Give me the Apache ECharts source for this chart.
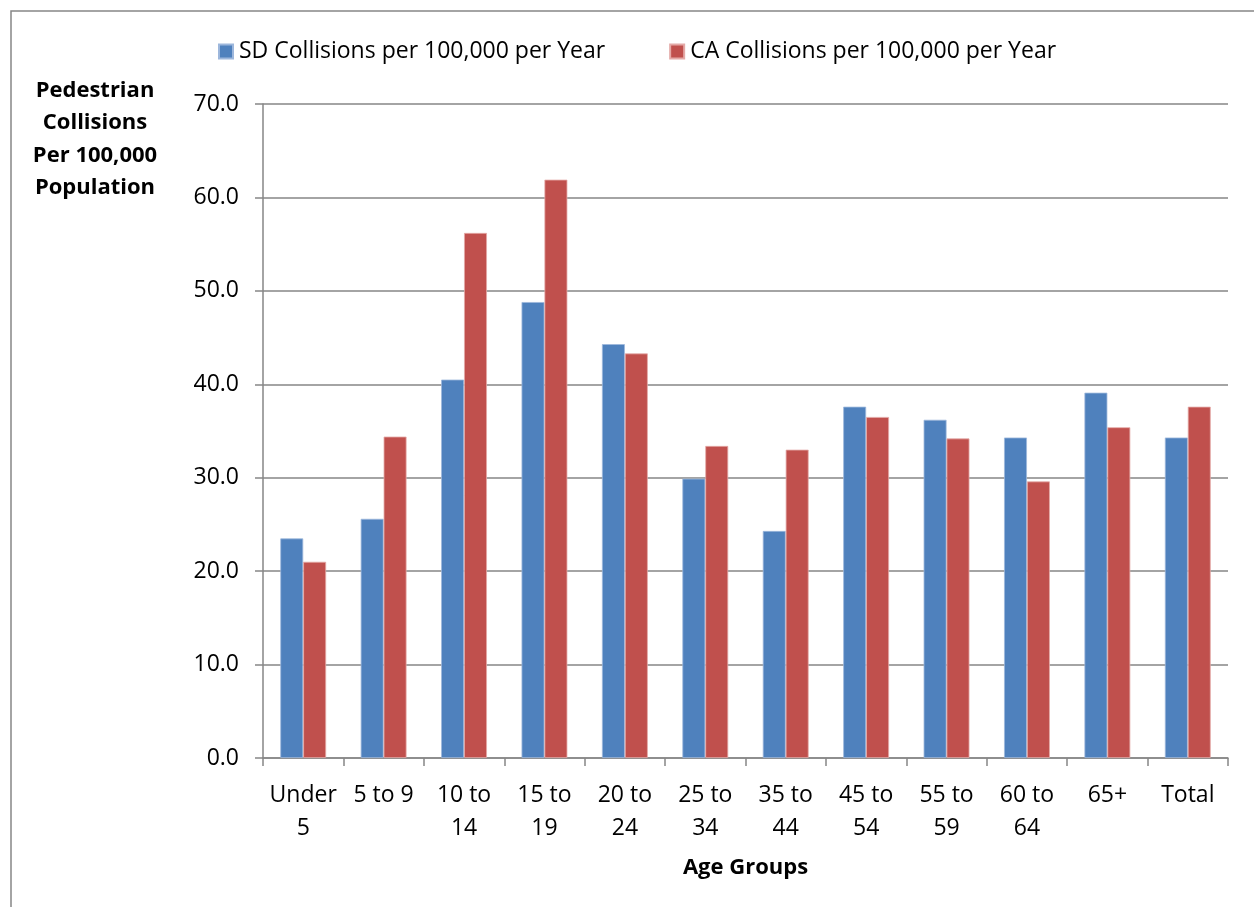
<!DOCTYPE html>
<html>
<head>
<meta charset="utf-8">
<script src="https://cdn.jsdelivr.net/npm/echarts@6/dist/echarts.min.js"></script>
<style>
  html, body { margin: 0; padding: 0; background: #fff; }
  #chart { width: 1254px; height: 907px; }
</style>
</head>
<body>
<div id="chart"></div>
<script>
// Age groups shown along the x axis
const ageGroups = ['Under\n5', '5 to 9', '10 to\n14', '15 to\n19', '20 to\n24', '25 to\n34',
  '35 to\n44', '45 to\n54', '55 to\n59', '60 to\n64', '65+', 'Total'];

// Pedestrian collisions per 100,000 population per year
const sdRates = [23.5, 25.6, 40.5, 48.8, 44.3, 29.9, 24.3, 37.6, 36.2, 34.3, 39.1, 34.3];
const caRates = [21.0, 34.4, 56.2, 61.9, 43.3, 33.4, 33.0, 36.5, 34.2, 29.6, 35.4, 37.6];

const seriesNames = ['SD Collisions per 100,000 per Year', 'CA Collisions per 100,000 per Year'];

const FONT = '"Open Sans", "Noto Sans", sans-serif';
const AXIS_GRAY = '#868686';

const chart = echarts.init(document.getElementById('chart'), null, { renderer: 'canvas' });

chart.setOption({
  backgroundColor: '#ffffff',
  animation: false,
  textStyle: { fontFamily: FONT },
  graphic: [
    // outer chart frame
    {
      type: 'rect',
      shape: { x: 11, y: 11, width: 1260, height: 920 },
      style: { fill: 'none', stroke: AXIS_GRAY, lineWidth: 1.5 },
      silent: true
    },
    // y axis title, stacked over four lines
    {
      type: 'text',
      x: 95, y: 139,
      style: {
        text: 'Pedestrian\nCollisions\nPer 100,000\nPopulation',
        align: 'center',
        verticalAlign: 'middle',
        font: 'bold 22px ' + FONT,
        lineHeight: 32.5,
        fill: '#000'
      },
      silent: true
    }
  ],
  legend: {
    left: 213,
    top: 35,
    itemWidth: 14,
    itemHeight: 14,
    itemGap: 64,
    icon: 'rect',
    textStyle: { fontSize: 23, color: '#000', fontFamily: FONT, padding: [0, 0, 0, 1] },
    data: seriesNames
  },
  grid: { left: 263, right: 26, top: 104, bottom: 149, containLabel: false },
  xAxis: {
    type: 'category',
    data: ageGroups,
    name: 'Age Groups',
    nameLocation: 'middle',
    nameGap: 99,
    nameTextStyle: { fontSize: 22, fontWeight: 'bold', color: '#000', fontFamily: FONT },
    axisLine: { lineStyle: { color: AXIS_GRAY, width: 1.5 } },
    axisTick: { show: true, length: 8, alignWithLabel: false, lineStyle: { color: AXIS_GRAY, width: 1.5 } },
    axisLabel: {
      interval: 0,
      fontSize: 23,
      color: '#000',
      fontFamily: FONT,
      lineHeight: 33,
      margin: 21,
      verticalAlign: 'top'
    },
    splitLine: { show: false }
  },
  yAxis: {
    type: 'value',
    min: 0,
    max: 70,
    interval: 10,
    axisLine: { show: true, lineStyle: { color: AXIS_GRAY, width: 1.5 } },
    axisTick: { show: true, length: 8, lineStyle: { color: AXIS_GRAY, width: 1.5 } },
    axisLabel: {
      formatter: v => v.toFixed(1),
      fontSize: 23,
      color: '#000',
      fontFamily: FONT,
      margin: 24
    },
    splitLine: { show: true, lineStyle: { color: AXIS_GRAY, width: 1.5 } }
  },
  series: [
    {
      name: seriesNames[0],
      type: 'bar',
      data: sdRates,
      barGap: '0%',
      barCategoryGap: '43%',
      itemStyle: { color: '#4F81BD', borderColor: '#9db7dc', borderWidth: 0.8 }
    },
    {
      name: seriesNames[1],
      type: 'bar',
      data: caRates,
      barGap: '0%',
      barCategoryGap: '43%',
      itemStyle: { color: '#C0504D', borderColor: '#e4a9a7', borderWidth: 0.8 }
    }
  ]
});
</script>
</body>
</html>
